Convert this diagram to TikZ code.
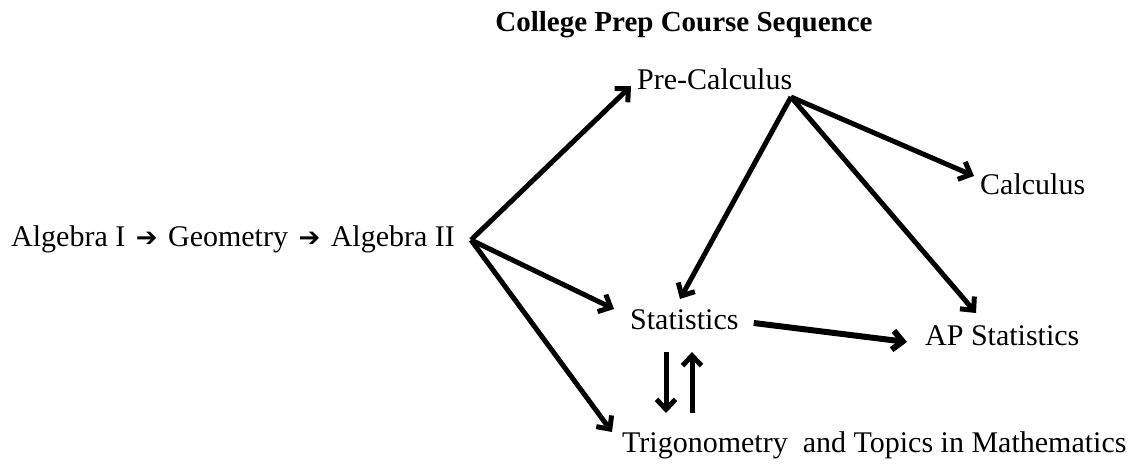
\documentclass[tikz,border=0pt]{standalone}
\usepackage{fontspec}
\setmainfont{Liberation Serif}
\newfontfamily\symfont{DejaVu Sans}
\newcommand{\nextcourse}{\hspace{3pt}{\symfont\fontsize{26}{30}\selectfont ➔}\hspace{3pt}}
\usetikzlibrary{
    arrows.meta
}
\tikzset{
    >={Straight Barb[length=10pt,width=19pt]},
    course/.style={
        inner sep=0pt,
        anchor=base west,
        font=\fontsize{30}{35}\selectfont
    },
    heading/.style={
        inner sep=0pt,
        anchor=base,
        font=\fontsize{29}{34}\selectfont\bfseries
    },
    link/.style={
        ->,
        line width=5pt
    }
}

\begin{document}
\begin{tikzpicture}[
    x=1pt,
    y=-1pt
]
    \useasboundingbox (0,0) rectangle (1140,470);

    % Titulo
    \node[heading] (tit) at (684,32) {College Prep Course Sequence};

    % Cursos
    \node[course] (alg)  at (11,247)  {Algebra I \nextcourse{} Geometry \nextcourse{} Algebra II};
    \node[course] (pre)  at (637,90)  {Pre-Calculus};
    \node[course] (calc) at (980,195) {Calculus};
    \node[course] (stat) at (630,329) {Statistics};
    \node[course] (ap)   at (925,345) {AP Statistics};
    \node[course] (trig) at (622,452) {Trigonometry~ and Topics in Mathematics};

    % Puntos de salida
    \coordinate (alghub) at (471,240);
    \coordinate (prehub) at (791,97);

    % Flechas
    \path[link]

        % desde Algebra II
        (alghub)
            edge ([shift={(-6pt,4pt)}]pre.base west)
            edge ([shift={(-16pt,20pt)}]stat.base west)
            edge ([shift={(-10pt,20pt)}]trig.base west)

        % desde Pre-Calculus
        (prehub)
            edge ([shift={(-6pt,19pt)}]calc.base west)
            edge ([shift={(50pt,30pt)}]stat.base west)
            edge ([shift={(51pt,32pt)}]ap.base west)

        % Statistics
        ([shift={(15pt,6pt)}]stat.base east)
            edge[line width=6pt] ([shift={(-18pt,3pt)}]ap.base west)
        ([shift={(36pt,-23pt)}]stat.base west)
            edge ([shift={(44pt,39pt)}]trig.base west)
        ([shift={(70pt,39pt)}]trig.base west)
            edge ([shift={(62pt,-23pt)}]stat.base west);

\end{tikzpicture}
\end{document}
